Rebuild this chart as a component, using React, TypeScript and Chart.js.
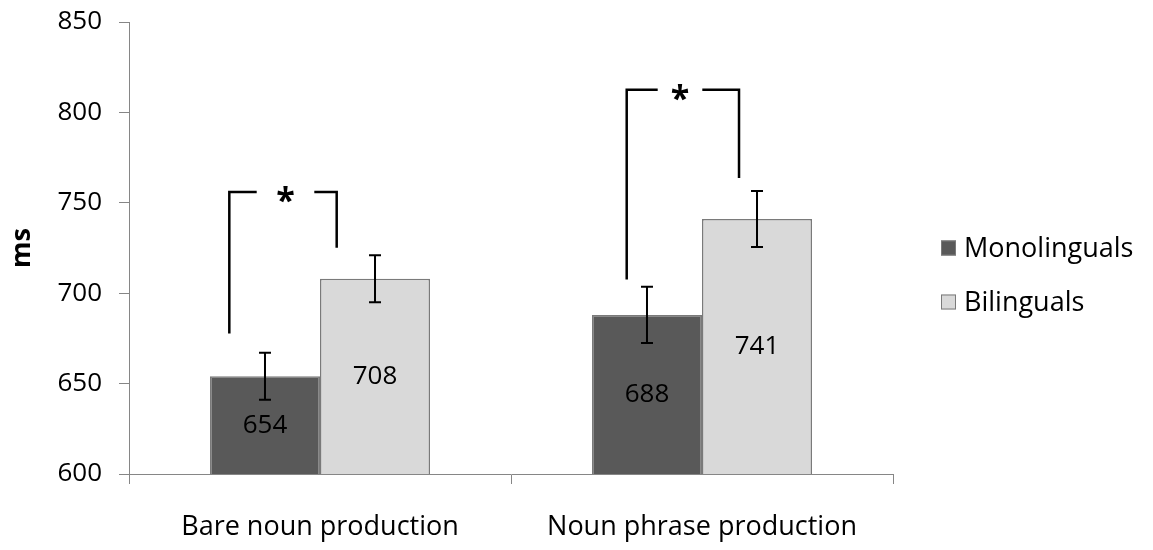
import React, { useEffect, useRef } from "react";
import { Chart, registerables } from "chart.js";

Chart.register(...registerables);

const categories = ["Bare noun production", "Noun phrase production"];
const seriesNames = ["Monolinguals", "Bilinguals"];
const monolinguals = [654, 688];
const bilinguals = [708, 741];
const monoErr = [13, 15.5];
const biErr = [13, 15.5];
const yMin = 600;
const yMax = 850;
const yStep = 50;

// significance brackets (y in ms, x as offsets in category units from category centre)
const bracketTop = [756, 812.5];
const bracketLeftBottom = [677.7, 707.6];
const bracketRightBottom = [725.2, 763.7];
const bracketLeftX = [-0.2374, -0.1971];
const bracketRightX = [0.0437, 0.0969];
const bracketGapStart = [-0.1657, -0.116];
const bracketGapEnd = [-0.0149, 0.0008];
const bracketMark = ["*", "*"];

const FONT = "'Open Sans', sans-serif";
const colors = ["#595959", "#d9d9d9"];
const borderColor = "#7a7a7a";

const overlayPlugin = {
  id: "overlay",
  afterDatasetsDraw(chart: any) {
    const ctx = chart.ctx;
    const y = chart.scales.y;
    const x = chart.scales.x;
    const errs = [monoErr, biErr];
    ctx.save();
    // error bars
    ctx.strokeStyle = "#000";
    ctx.lineWidth = 2;
    chart.data.datasets.forEach((ds: any, di: number) => {
      const meta = chart.getDatasetMeta(di);
      meta.data.forEach((bar: any, i: number) => {
        const v = ds.data[i];
        const e = errs[di][i];
        const top = y.getPixelForValue(v + e);
        const bot = y.getPixelForValue(v - e);
        const cx = bar.x;
        ctx.beginPath();
        ctx.moveTo(cx, top);
        ctx.lineTo(cx, bot);
        ctx.moveTo(cx - 6, top);
        ctx.lineTo(cx + 6, top);
        ctx.moveTo(cx - 6, bot);
        ctx.lineTo(cx + 6, bot);
        ctx.stroke();
      });
    });
    // value labels
    ctx.fillStyle = "#000";
    ctx.font = `26px ${FONT}`;
    ctx.textAlign = "center";
    ctx.textBaseline = "middle";
    chart.data.datasets.forEach((ds: any, di: number) => {
      const meta = chart.getDatasetMeta(di);
      meta.data.forEach((bar: any, i: number) => {
        const v = ds.data[i];
        const cy = (y.getPixelForValue(v) + y.getPixelForValue(yMin)) / 2;
        ctx.fillText(String(v), bar.x, cy);
      });
    });
    // brackets
    const unit = x.getPixelForValue(1) - x.getPixelForValue(0);
    ctx.lineWidth = 2.5;
    ctx.strokeStyle = "#000";
    categories.forEach((_, i) => {
      const c = x.getPixelForValue(i);
      const lx = c + bracketLeftX[i] * unit;
      const rx = c + bracketRightX[i] * unit;
      const g1 = c + bracketGapStart[i] * unit;
      const g2 = c + bracketGapEnd[i] * unit;
      const ty = y.getPixelForValue(bracketTop[i]);
      const lb = y.getPixelForValue(bracketLeftBottom[i]);
      const rb = y.getPixelForValue(bracketRightBottom[i]);
      ctx.beginPath();
      ctx.moveTo(lx, lb);
      ctx.lineTo(lx, ty);
      ctx.lineTo(g1, ty);
      ctx.moveTo(g2, ty);
      ctx.lineTo(rx, ty);
      ctx.lineTo(rx, rb);
      ctx.stroke();
      ctx.font = `bold 34px ${FONT}`;
      ctx.textAlign = "center";
      ctx.textBaseline = "alphabetic";
      ctx.fillStyle = "#000";
      const m = ctx.measureText(bracketMark[i]);
      const gh = m.actualBoundingBoxAscent - m.actualBoundingBoxDescent;
      const centreY = ty + 3;
      ctx.fillText(bracketMark[i], (g1 + g2) / 2, centreY + gh / 2);
    });
    // legend
    const area = chart.chartArea;
    const legendX = area.right + 48;
    const legendY = [248, 302];
    ctx.font = `27px ${FONT}`;
    ctx.textAlign = "left";
    ctx.textBaseline = "middle";
    seriesNames.forEach((name, i) => {
      ctx.fillStyle = colors[i];
      ctx.fillRect(legendX, legendY[i] - 7.5, 15, 15);
      ctx.lineWidth = 1;
      ctx.strokeStyle = borderColor;
      ctx.strokeRect(legendX + 0.5, legendY[i] - 7.5 + 0.5, 14, 14);
      ctx.fillStyle = "#000";
      ctx.fillText(name, legendX + 23, legendY[i] + 1);
    });
    ctx.restore();
  },
};

export default function App() {
  const ref = useRef<HTMLCanvasElement | null>(null);
  useEffect(() => {
    document.body.style.margin = "0";
    if (!ref.current) return;
    const chart = new Chart(ref.current, {
      type: "bar",
      data: {
        labels: categories,
        datasets: [
          {
            label: seriesNames[0],
            data: monolinguals,
            backgroundColor: colors[0],
            borderColor: borderColor,
            borderWidth: 1.5,
          },
          {
            label: seriesNames[1],
            data: bilinguals,
            backgroundColor: colors[1],
            borderColor: borderColor,
            borderWidth: 1.5,
          },
        ],
      },
      options: {
        animation: false,
        responsive: true,
        maintainAspectRatio: false,
        layout: { padding: { top: 22, right: 260, left: 0, bottom: 0 } },
        plugins: { legend: { display: false }, tooltip: { enabled: false } },
        datasets: { bar: { categoryPercentage: 0.576, barPercentage: 1 } },
        scales: {
          x: {
            grid: {
              offset: true,
              drawOnChartArea: false,
              drawTicks: true,
              tickLength: 10,
              color: "#868686",
            },
            border: { color: "#868686", width: 1 },
            ticks: { color: "#000", font: { family: FONT, size: 27 }, padding: 27 },
            afterFit: (s: any) => {
              s.height = 76;
              s.paddingLeft = 0;
              s.paddingRight = 0;
            },
          },
          y: {
            min: yMin,
            max: yMax,
            ticks: {
              stepSize: yStep,
              color: "#000",
              font: { family: FONT, size: 26 },
              padding: 17,
            },
            grid: {
              drawOnChartArea: false,
              drawTicks: true,
              tickLength: 10,
              color: "#868686",
            },
            border: { color: "#868686", width: 1 },
            title: {
              display: true,
              text: "ms",
              color: "#000",
              font: { family: FONT, size: 27, weight: "bold" },
              padding: { top: 6, bottom: 0 },
            },
            afterFit: (s: any) => {
              s.width = 129;
              s.paddingTop = 0;
              s.paddingBottom = 0;
            },
          },
        },
      },
      plugins: [overlayPlugin],
    });
    return () => chart.destroy();
  }, []);
  return (
    <div style={{ position: "relative", width: 1153, height: 550 }}>
      <canvas ref={ref} />
    </div>
  );
}
